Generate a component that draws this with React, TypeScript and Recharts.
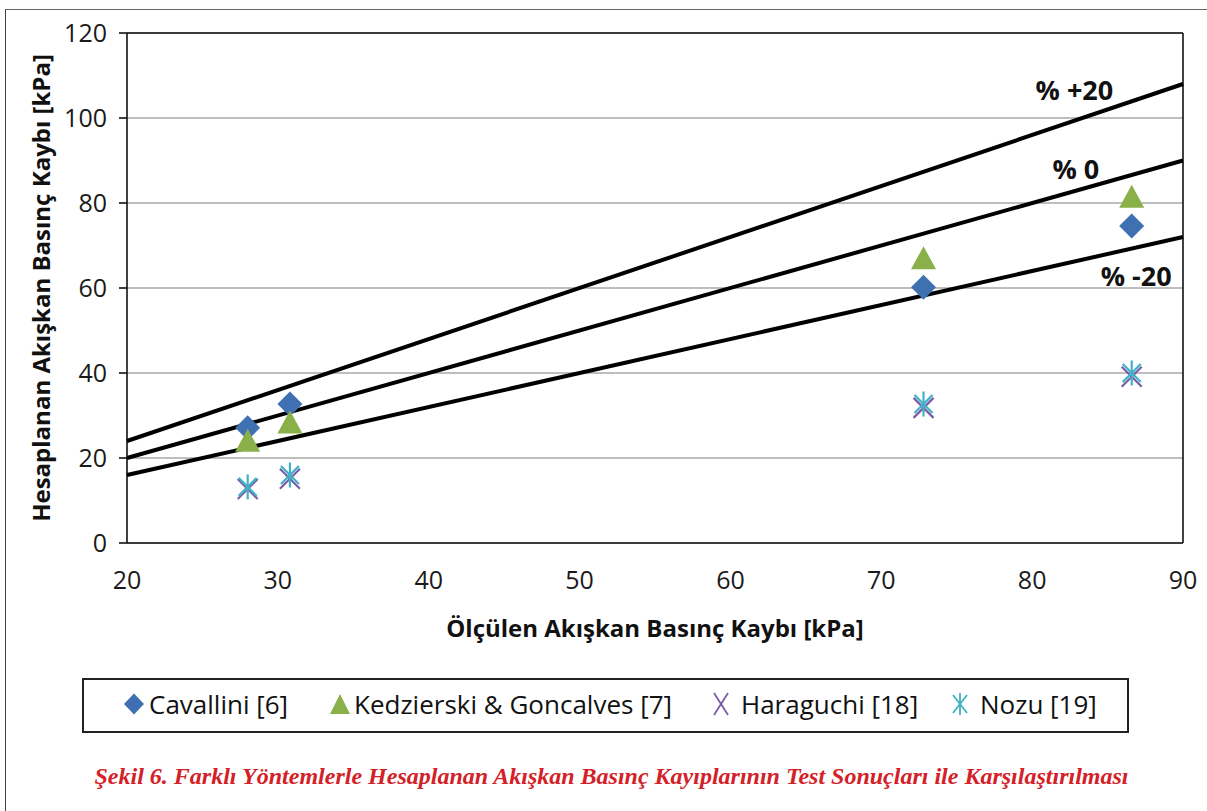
import React from 'react';
import { ScatterChart, Scatter, XAxis, YAxis, CartesianGrid, ReferenceLine } from 'recharts';

const measured = [28.0, 30.8, 72.8, 86.6];
const cavallini = [27.1, 32.7, 60.2, 74.6];
const kedzierski = [24.2, 28.5, 67.1, 81.6];
const haraguchi = [12.7, 15.1, 31.8, 39.1];
const nozu = [13.2, 16.0, 32.7, 40.0];

const seriesNames = ['Cavallini [6]', 'Kedzierski & Goncalves [7]', 'Haraguchi [18]', 'Nozu [19]'];
const xTicks = [20, 30, 40, 50, 60, 70, 80, 90];
const yTicks = [0, 20, 40, 60, 80, 100, 120];
const lineEnds = [20, 90];
const bandFactors = [1.2, 1.0, 0.8];
const bandLabels = ['% +20', '% 0', '% -20'];

const xTitle = 'Ölçülen Akışkan Basınç Kaybı [kPa]';
const yTitle = 'Hesaplanan Akışkan Basınç Kaybı [kPa]';
const caption = 'Şekil 6. Farklı Yöntemlerle Hesaplanan Akışkan Basınç Kayıplarının Test Sonuçları ile Karşılaştırılması';

const BLUE = '#3E70B2';
const GREEN = '#8AB04A';
const PURPLE = '#7E5BA8';
const CYAN = '#3FB2C8';
const FONT = '"Open Sans", sans-serif';

const toPoints = (ys: number[]) => measured.map((x, i) => ({ x, y: ys[i] }));

const Diamond = (p: any) => {
  const { cx, cy } = p;
  const r = 12.5;
  return <path d={`M${cx},${cy - r}L${cx + r},${cy}L${cx},${cy + r}L${cx - r},${cy}Z`} fill={BLUE} />;
};
const Triangle = (p: any) => {
  const { cx, cy } = p;
  return <path d={`M${cx},${cy - 11.5}L${cx + 12.5},${cy + 11.5}L${cx - 12.5},${cy + 11.5}Z`} fill={GREEN} />;
};
const Cross = (p: any) => {
  const { cx, cy } = p;
  const r = 10;
  return (
    <g stroke={PURPLE} strokeWidth={2.2}>
      <line x1={cx - r} y1={cy - r} x2={cx + r} y2={cy + r} />
      <line x1={cx - r} y1={cy + r} x2={cx + r} y2={cy - r} />
    </g>
  );
};
const Star = (p: any) => {
  const { cx, cy } = p;
  const r = 9;
  return (
    <g stroke={CYAN} strokeWidth={2.2}>
      <line x1={cx - r} y1={cy - r} x2={cx + r} y2={cy + r} />
      <line x1={cx - r} y1={cy + r} x2={cx + r} y2={cy - r} />
      <line x1={cx} y1={cy - 12.5} x2={cx} y2={cy + 12.5} />
    </g>
  );
};
const NoShape = () => null;

const labelAnchors = [
  { x: 82.8, y: 106.6 },
  { x: 82.9, y: 88.2 },
  { x: 86.9, y: 63.0 },
];
const LabelShape = (p: any) => (
  <text x={p.cx} y={p.cy} textAnchor="middle" dominantBaseline="central" fontFamily={FONT} fontWeight={700} fontSize={27} fill="#111">
    {p.payload.label}
  </text>
);

const legendIcons = [
  (x: number, y: number) => <path d={`M${x},${y - 10.5}L${x + 10},${y}L${x},${y + 10.5}L${x - 10},${y}Z`} fill={BLUE} />,
  (x: number, y: number) => <path d={`M${x},${y - 10}L${x + 10},${y + 10}L${x - 10},${y + 10}Z`} fill={GREEN} />,
  (x: number, y: number) => (
    <g stroke={PURPLE} strokeWidth={1.8}>
      <line x1={x - 7} y1={y - 11} x2={x + 7} y2={y + 11} />
      <line x1={x - 7} y1={y + 11} x2={x + 7} y2={y - 11} />
    </g>
  ),
  (x: number, y: number) => (
    <g stroke={CYAN} strokeWidth={1.8}>
      <line x1={x - 7} y1={y - 9} x2={x + 7} y2={y + 9} />
      <line x1={x - 7} y1={y + 9} x2={x + 7} y2={y - 9} />
      <line x1={x} y1={y - 11} x2={x} y2={y + 11} />
    </g>
  ),
];
// layout of legend entries inside the box (icon centre, text start), relative to the box
const legendIconX = [52, 258, 639, 878];
const legendTextX = [67, 272, 659, 898];

export default function App() {
  return (
    <div style={{ position: 'absolute', left: 0, top: 0, width: 1207, height: 811, background: '#fff', overflow: 'hidden' }}>
      <div style={{ position: 'absolute', left: 5, top: 9, width: 1210, height: 810, borderLeft: '1.5px solid #444', borderTop: '1.5px solid #666' }} />
      <div style={{ position: 'absolute', left: 0, top: 0 }}>
        <ScatterChart width={1207} height={811} margin={{ top: 33, right: 24, left: 0, bottom: 0 }}>
          <CartesianGrid vertical={false} stroke="#A8A8A8" strokeWidth={1.6} />
          <XAxis
            type="number"
            dataKey="x"
            domain={[20, 90]}
            ticks={xTicks}
            height={268}
            axisLine={{ stroke: '#111', strokeWidth: 1.6 }}
            tickLine={false}
            tick={{ fontFamily: FONT, fontSize: 25, fill: '#1a1a1a' }}
            tickMargin={22}
            label={{
              content: (props: any) => {
                const vb = props.viewBox;
                return (
                  <text x={vb.x + vb.width / 2} y={627} textAnchor="middle" dominantBaseline="central" fontFamily={FONT} fontWeight={700} fontSize={24} fill="#111">
                    {xTitle}
                  </text>
                );
              },
            }}
          />
          <YAxis
            type="number"
            dataKey="y"
            domain={[0, 120]}
            ticks={yTicks}
            width={127}
            axisLine={{ stroke: '#111', strokeWidth: 1.6 }}
            tickLine={{ stroke: '#111', strokeWidth: 1.6 }}
            tickSize={8}
            tickMargin={12}
            tick={{ fontFamily: FONT, fontSize: 25, fill: '#1a1a1a' }}
            label={{
              content: (props: any) => {
                const vb = props.viewBox;
                const cy = vb.y + vb.height / 2;
                return (
                  <text x={40} y={cy} transform={`rotate(-90 40 ${cy})`} textAnchor="middle" dominantBaseline="central" fontFamily={FONT} fontWeight={700} fontSize={24} fill="#111">
                    {yTitle}
                  </text>
                );
              },
            }}
          />
          <ReferenceLine y={120} stroke="#111" strokeWidth={1.6} />
          <ReferenceLine x={90} stroke="#111" strokeWidth={1.6} />
          {bandFactors.map((f, i) => (
            <Scatter
              key={`band${i}`}
              data={lineEnds.map((x) => ({ x, y: x * f }))}
              line={{ stroke: '#000', strokeWidth: 4 }}
              shape={NoShape}
              isAnimationActive={false}
            />
          ))}
          <Scatter data={toPoints(cavallini)} shape={Diamond} isAnimationActive={false} />
          <Scatter data={toPoints(kedzierski)} shape={Triangle} isAnimationActive={false} />
          <Scatter data={toPoints(haraguchi)} shape={Cross} isAnimationActive={false} />
          <Scatter data={toPoints(nozu)} shape={Star} isAnimationActive={false} />
          <Scatter
            data={labelAnchors.map((a, i) => ({ ...a, label: bandLabels[i] }))}
            shape={LabelShape}
            isAnimationActive={false}
          />
        </ScatterChart>
      </div>
      <div
        style={{
          position: 'absolute',
          left: 82,
          top: 678,
          width: 1047,
          height: 55,
          border: '2px solid #222',
          boxSizing: 'border-box',
          fontFamily: FONT,
          fontSize: 26,
          color: '#111',
        }}
      >
        {seriesNames.map((name, i) => (
          <React.Fragment key={name}>
            <svg width={30} height={30} style={{ position: 'absolute', left: legendIconX[i] - 15 - 2, top: 25.5 - 15 - 2 }}>
              {legendIcons[i](15, 15)}
            </svg>
            <span style={{ position: 'absolute', left: legendTextX[i] - 2, top: 25.5 - 18 - 2, lineHeight: '36px', whiteSpace: 'nowrap' }}>
              {name}
            </span>
          </React.Fragment>
        ))}
      </div>
      <div
        style={{
          position: 'absolute',
          left: 0,
          width: 1223,
          top: 764,
          textAlign: 'center',
          fontFamily: '"Liberation Serif", "Times New Roman", serif',
          fontStyle: 'italic',
          fontWeight: 700,
          fontSize: 24,
          lineHeight: '24px',
          color: '#D42027',
          whiteSpace: 'nowrap',
        }}
      >
        {caption}
      </div>
    </div>
  );
}
